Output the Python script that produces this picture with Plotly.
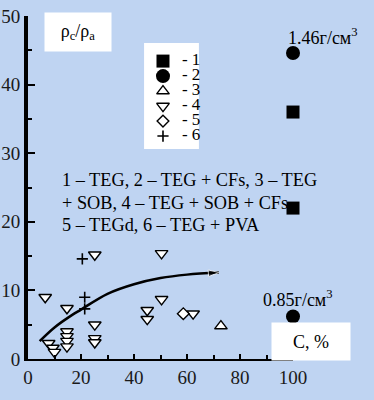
import plotly.graph_objects as go

# Series data (C, % ; rho_c/rho_a)
s1_x = [100, 100]
s1_y = [36, 22]
s2_x = [100, 100]
s2_y = [44.6, 6.2]
s3_x = [72.8]
s3_y = [4.8]
s4_x = [6.5, 14.7, 14.7, 14.7, 14.7, 14.7, 25.2, 25.2, 25.2, 25.2, 7.8, 9.4, 10.0, 45.0, 45.0, 50.4, 50.4, 62.3]
s4_y = [9.0, 7.4, 4.0, 3.3, 2.6, 1.8, 15.2, 5.0, 3.0, 2.4, 2.3, 1.6, 1.0, 7.1, 5.8, 8.7, 15.4, 6.6]
s5_x = [58.6]
s5_y = [6.6]
s6_x = [20.5, 21.4, 21.4]
s6_y = [14.6, 9.0, 7.3]
curve_x = [4.4, 10, 15, 20, 30, 40, 50, 60, 72]
curve_y = [2.6, 4.6, 6.0, 7.2, 9.5, 10.9, 11.8, 12.3, 12.6]

legend_labels = ["- 1", "- 2", "- 3", "- 4", "- 5", "- 6"]
desc_lines = ["1 – TEG, 2 – TEG + CFs, 3 – TEG",
              "+ SOB, 4 – TEG + SOB + CFs",
              "5 – TEGd, 6 – TEG + PVA"]

x_ticks = [0, 20, 40, 60, 80, 100]
y_ticks = [0, 10, 20, 30, 40, 50]

BG = "#bfd4f2"
SERIF = "Liberation Serif"

outline = dict(color="black", width=1.4)
styles = [
    dict(symbol="square", size=13, color="black"),
    dict(symbol="circle", size=14, color="black"),
    dict(symbol="triangle-up", size=11, color="white", line=outline),
    dict(symbol="triangle-down", size=11, color="white", line=outline),
    dict(symbol="diamond", size=9, color="white", line=outline),
    dict(symbol="cross-thin", size=8, color="black", line=dict(color="black", width=1.6)),
]
series = [(s1_x, s1_y), (s2_x, s2_y), (s3_x, s3_y), (s4_x, s4_y), (s5_x, s5_y), (s6_x, s6_y)]

fig = go.Figure()

fig.add_trace(go.Scatter(
    x=curve_x, y=curve_y, mode="lines+markers", showlegend=False,
    line=dict(color="black", width=2.5, shape="spline"),
    marker=dict(symbol="arrow", angleref="previous",
                size=[0] * (len(curve_x) - 1) + [11], color="black"),
    cliponaxis=False,
))

for (sx, sy), st, lab in zip(series, styles, legend_labels):
    fig.add_trace(go.Scatter(x=sx, y=sy, mode="markers", name=lab, showlegend=False,
                             marker=st, cliponaxis=False))

# manual legend on helper axes
for i, (st, lab) in enumerate(zip(styles, legend_labels)):
    fig.add_trace(go.Scatter(x=[0.345], y=[i], mode="markers", showlegend=False,
                             marker=st, xaxis="x2", yaxis="y2", hoverinfo="skip",
                             cliponaxis=False))
    fig.add_trace(go.Scatter(x=[0.69], y=[i], mode="text", text=[lab], showlegend=False,
                             textposition="middle right", xaxis="x2", yaxis="y2",
                             textfont=dict(family=SERIF, size=17, color="black"),
                             hoverinfo="skip", cliponaxis=False))

tickfont = dict(family=SERIF, size=19, color="#1a1a1a")

fig.update_layout(
    xaxis=dict(
        range=[0, 100], tickvals=x_ticks, ticktext=[str(v) for v in x_ticks],
        showgrid=False, zeroline=False, showline=True, linecolor="black", linewidth=2,
        ticks="inside", ticklen=5, tickwidth=2, tickcolor="black", tickfont=tickfont,
        automargin=False,
        minor=dict(dtick=10, ticks="inside", ticklen=4, tickwidth=2, tickcolor="black", showgrid=False),
    ),
    yaxis=dict(
        range=[0, 50], tickvals=y_ticks, ticktext=[str(v) for v in y_ticks],
        showgrid=False, zeroline=False, showline=True, linecolor="black", linewidth=4,
        ticks="inside", ticklen=7, tickwidth=2, tickcolor="black", tickfont=tickfont,
        automargin=False,
        minor=dict(dtick=5, ticks="inside", ticklen=4, tickwidth=2, tickcolor="black", showgrid=False),
    ),
    xaxis2=dict(domain=[0.438, 0.645], range=[0, 1], anchor="y2", visible=False,
                fixedrange=True),
    yaxis2=dict(domain=[0.612, 0.921], range=[5.87, -1.2], anchor="x2", visible=False,
                fixedrange=True),
)

# white box behind the legend
fig.add_shape(type="rect", xref="paper", yref="paper", x0=0.438, x1=0.645, y0=0.612, y1=0.921,
              fillcolor="white", line=dict(width=0), layer="below")

annos = [
    dict(x=0.189, y=0.953, text="ρ<sub>c</sub>/ρ<sub>a</sub>", width=64, height=36,
         bgcolor="white", font=dict(family=SERIF, size=18, color="black")),
    dict(x=1.068, y=0.051, text="C, %", width=76, height=35,
         bgcolor="white", font=dict(family=SERIF, size=18, color="black")),
    dict(x=1.113, y=0.939, text="1.46г/см<sup>3</sup>",
         font=dict(family=SERIF, size=18, color="black")),
    dict(x=1.019, y=0.175, text="0.85г/см<sup>3</sup>",
         font=dict(family=SERIF, size=18, color="black")),
]
for line, yy in zip(desc_lines, [0.522, 0.455, 0.391]):
    annos.append(dict(x=0.121, y=yy, xanchor="left", text=line,
                      font=dict(family=SERIF, size=18.3, color="black")))
for a in annos:
    a.update(xref="paper", yref="paper", showarrow=False)
    a.setdefault("xanchor", "center")
    a.setdefault("yanchor", "middle")

fig.update_layout(
    width=374, height=400,
    margin=dict(l=28, r=81, t=16, b=41),
    paper_bgcolor=BG, plot_bgcolor="rgba(0,0,0,0)",
    font=dict(family=SERIF),
    annotations=annos,
    showlegend=False,
)

fig.write_html("out.html", config={"displayModeBar": False, "staticPlot": True},
               post_script="document.body.style.margin='0';")
